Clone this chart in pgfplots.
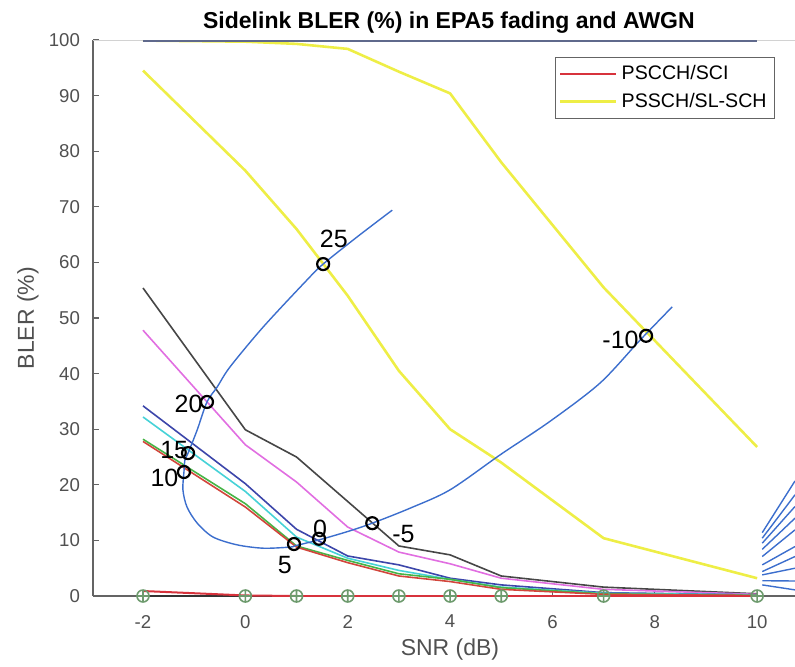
\documentclass[border=0pt]{standalone}
\usepackage{fontspec}
\setmainfont{Liberation Sans}
\usepackage{pgfplots}
\pgfplotsset{compat=1.18}

\definecolor{tickgray}{RGB}{80,80,80}
\definecolor{axgray}{RGB}{100,100,100}
\definecolor{myyellow}{RGB}{238,238,70}
\definecolor{slate}{RGB}{95,105,140}
\definecolor{mblue}{RGB}{60,110,205}
\definecolor{pred}{RGB}{215,50,60}
\definecolor{mkgreen}{RGB}{110,155,110}
\definecolor{cblack}{RGB}{70,70,70}
\definecolor{cmag}{RGB}{225,110,225}
\definecolor{cblue}{RGB}{60,70,170}
\definecolor{ccyan}{RGB}{70,210,215}
\definecolor{cgreen}{RGB}{70,180,70}
\definecolor{cred}{RGB}{210,70,60}

\begin{document}
\begin{tikzpicture}
\begin{axis}[
    name=ax,
    scale only axis,
    width=351pt, height=278pt,
    xmin=-2.977, xmax=10.74, ymin=0, ymax=100,
    axis x line*=bottom, axis y line*=left,
    axis line style={-, draw=axgray, line width=0.9pt},
    tick align=inside, major tick length=3pt,
    tick style={axgray, line width=0.6pt},
    xtick={-2,0,...,10}, ytick={0,10,...,100},
    /pgf/number format/assume math mode=true,
    ticklabel style={font=\fontsize{9.3}{10}\selectfont, text=tickgray},
    xticklabel style={yshift=-6pt},
    yticklabel style={xshift=-3pt},
    xlabel={SNR (dB)}, ylabel={BLER (\%)},
    label style={font=\fontsize{11.5}{13}\selectfont, text=tickgray},
    xlabel style={at={(axis description cs:0.5085,-0.097)}, anchor=center},
    ylabel style={at={(axis description cs:-0.0926,0.5)}, anchor=center},
    title={Sidelink BLER (\%) in EPA5 fading and AWGN},
    title style={font=\bfseries\fontsize{11.5}{13}\selectfont,
        at={(axis description cs:0.507,1)}, anchor=base, yshift=0pt},
    legend style={at={(0.9715,0.969)}, anchor=north east, draw=axgray,
        font=\fontsize{9.8}{11.5}\selectfont,
        inner xsep=2pt, inner ysep=2pt, row sep=1pt},
    legend cell align=left,
    legend image code/.code={\draw[#1] (0pt,0pt) -- (28pt,0pt);},
]
\draw[gray!35] (rel axis cs:0,1) -- (rel axis cs:1,1);

% PSSCH curves
\addplot[myyellow, line width=1.3pt, forget plot] coordinates {
(-2,99.9) (0,99.7) (1,99.3) (2,98.4) (3,94.3) (4,90.4) (5,78) (7,55.5) (10,26.8)};
\addplot[myyellow, line width=1.3pt, forget plot] coordinates {
(-2,94.5) (0,76.5) (1,66) (2,54) (3,40.5) (4,30) (5,24) (7,10.4) (10,3.2)};
\addplot[slate, line width=1.7pt, forget plot] coordinates {(-2,100) (10,100)};

% low curves
\addplot[cblack, line width=0.8pt, forget plot] coordinates {
(-2,55.4) (0,29.9) (1,25) (2,17) (3,9) (4,7.4) (5,3.6) (7,1.6) (10,0.4)};
\addplot[cmag, line width=0.8pt, forget plot] coordinates {
(-2,47.8) (0,27.2) (1,20.5) (2,12.4) (3,7.9) (4,5.8) (5,3.2) (7,1.2) (10,0.3)};
\addplot[cblue, line width=0.8pt, forget plot] coordinates {
(-2,34.2) (0,20.2) (1,12) (2,7.2) (3,5.6) (4,3.2) (5,2) (7,0.6) (10,0.2)};
\addplot[ccyan, line width=0.8pt, forget plot] coordinates {
(-2,32.2) (0,18.8) (1,10.6) (2,6.8) (3,4.6) (4,3) (5,1.6) (7,0.5) (10,0.2)};
\addplot[cgreen, line width=0.8pt, forget plot] coordinates {
(-2,28.2) (0,16.6) (1,9) (2,6.4) (3,4) (4,3) (5,1.5) (7,0.4) (10,0.1)};
\addplot[cred, line width=0.8pt, forget plot] coordinates {
(-2,27.8) (0,16) (1,8.8) (2,6) (3,3.6) (4,2.6) (5,1.2) (7,0.3) (10,0.1)};

% PSCCH
\addplot[black!80, line width=0.8pt, forget plot] coordinates {(-2,0) (10,0)};
\addplot[pred, line width=1pt, forget plot] coordinates {
(-2,0.9) (0,0.1) (1,0) (2,0) (3,0) (4,0) (5,0) (7,0) (10,0)};
\addplot[only marks, mark=oplus, mark size=3pt, mkgreen, line width=0.8pt, forget plot] coordinates {
(-2,0) (0,0) (1,0) (2,0) (3,0) (4,0) (5,0) (7,0) (10,0)};

% blue curve with labelled points
\addplot[mblue, line width=0.7pt, smooth, tension=0.5, forget plot] coordinates {
(2.87,69.4) (2.2,64.7) (1.52,59.7) (1.2,56.8) (0.35,48.4) (-0.3,41.2)
(-0.55,37.6) (-0.75,34.9) (-0.94,29.9) (-1.12,25.7) (-1.18,24.5) (-1.2,22.3)
(-1.22,19.1) (-1.14,16) (-0.94,13.1) (-0.63,10.6) (-0.16,9.2) (0.35,8.6)
(0.87,8.8) (1.0,9.1) (1.44,10.1) (2.0,11.6) (2.48,13.1) (3.22,15.8)
(4.0,19.1) (4.98,25.4) (5.95,31.4) (6.93,38.3) (7.71,46) (8.34,52)};
\addplot[only marks, mark=o, mark size=3pt, black, line width=1.1pt, forget plot] coordinates {
(1.52,59.7) (-0.75,34.9) (-1.12,25.7) (-1.2,22.3) (0.95,9.35) (1.44,10.3) (2.48,13.1) (7.83,46.8)};
\begin{scope}[every node/.style={font=\fontsize{12.5}{14}\selectfont, inner sep=0pt}]
\node at (axis cs:1.73,64.2) {25};
\node at (axis cs:-1.11,34.5) {20};
\node at (axis cs:-1.39,26.3) {15};
\node at (axis cs:-1.58,21.3) {10};
\node at (axis cs:0.77,5.6) {5};
\node at (axis cs:1.46,12.0) {0};
\node at (axis cs:3.09,11.2) {-5};
\node at (axis cs:7.33,46.0) {-10};
\end{scope}

% fan lines at the right edge
\addplot[mblue, line width=0.7pt, forget plot] coordinates {(10.1,11.4) (10.74,20.7)};
\addplot[mblue, line width=0.7pt, forget plot] coordinates {(10.1,10.4) (10.74,18.2)};
\addplot[mblue, line width=0.7pt, forget plot] coordinates {(10.1,9.5) (10.74,16.1)};
\addplot[mblue, line width=0.7pt, forget plot] coordinates {(10.1,8.4) (10.74,14.0)};
\addplot[mblue, line width=0.7pt, forget plot] coordinates {(10.1,7.1) (10.74,11.9)};
\addplot[mblue, line width=0.7pt, forget plot] coordinates {(10.1,5.6) (10.74,8.9)};
\addplot[mblue, line width=0.7pt, forget plot] coordinates {(10.1,4.4) (10.74,7.1)};
\addplot[mblue, line width=0.7pt, forget plot] coordinates {(10.1,3.8) (10.74,5.0)};
\addplot[mblue, line width=0.7pt, forget plot] coordinates {(10.1,2.75) (10.74,2.7)};
\addplot[mblue, line width=0.7pt, forget plot] coordinates {(10.1,2.0) (10.74,1.1)};

\addlegendimage{draw=pred, line width=0.8pt}
\addlegendentry{PSCCH/SCI}
\addlegendimage{draw=myyellow, line width=1.3pt}
\addlegendentry{PSSCH/SL-SCH}
\end{axis}
\pgfresetboundingbox
\path ([xshift=-46.5pt,yshift=-35pt]ax.south west) rectangle ([yshift=20pt]ax.north east);
\end{tikzpicture}
\end{document}
